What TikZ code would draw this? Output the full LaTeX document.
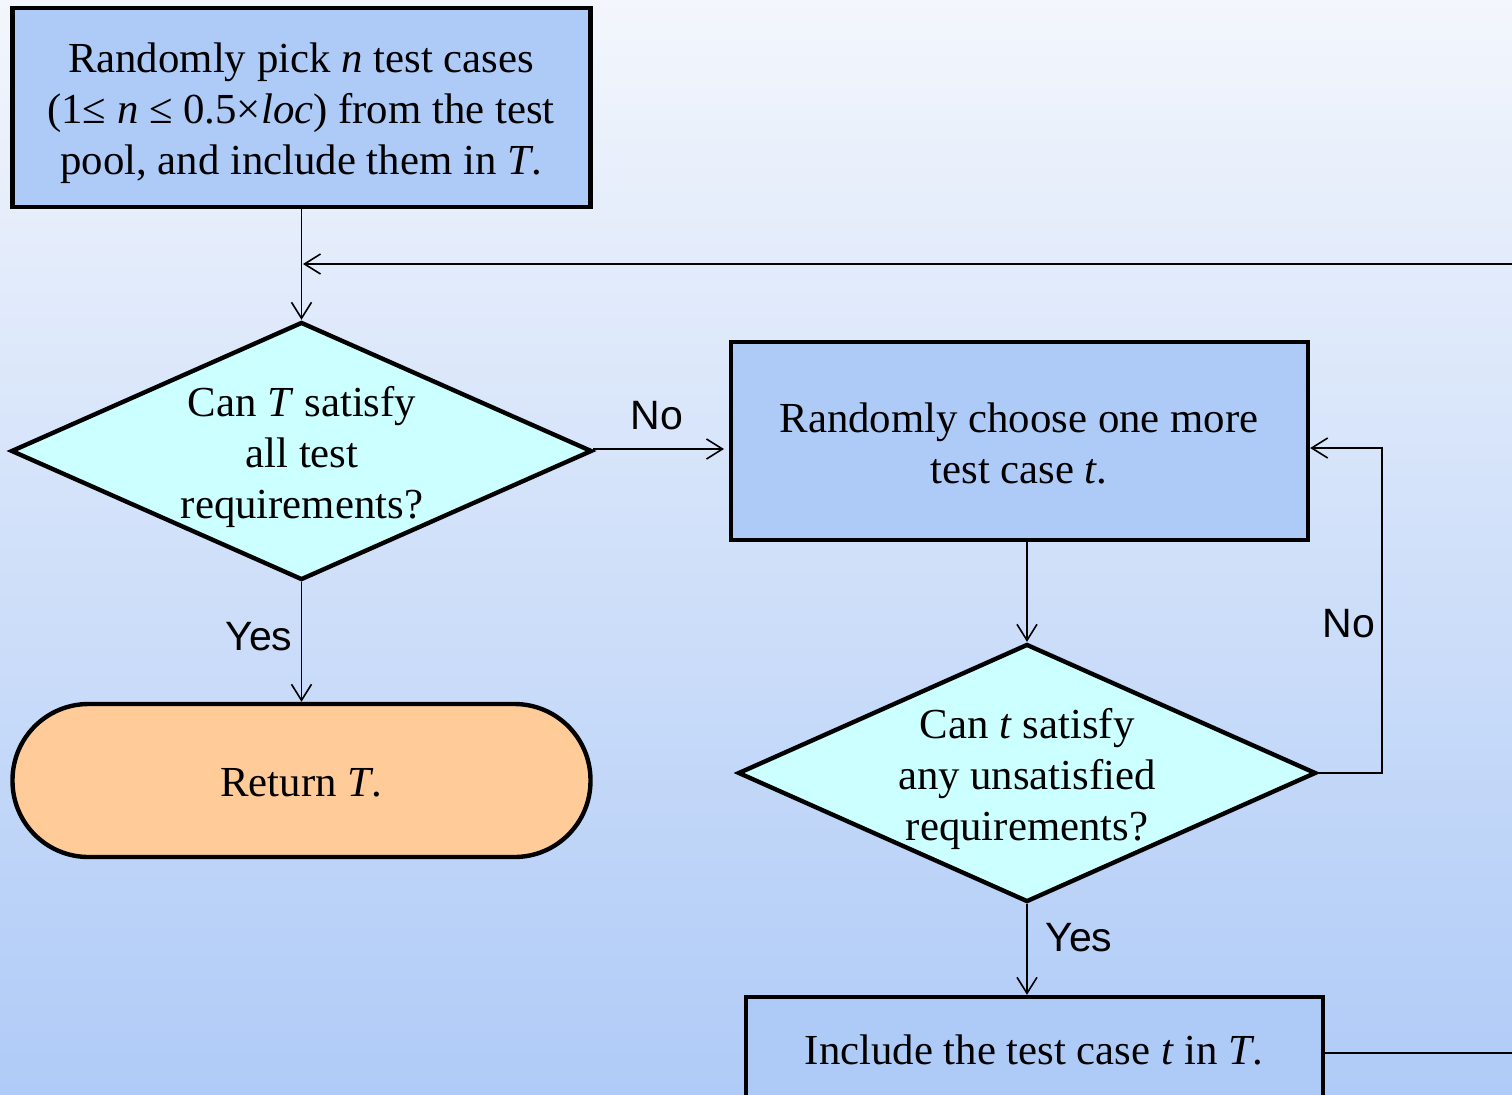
\documentclass[tikz,border=0pt]{standalone}
\usepackage{fontspec}
\setmainfont{Liberation Serif}
\newfontfamily\labfont{Liberation Sans}
\usetikzlibrary{shapes.geometric,arrows.meta}
\definecolor{bgtop}{HTML}{F3F6FC}
\definecolor{bgbot}{HTML}{AFCBF7}
\definecolor{boxblue}{HTML}{AECBF8}
\definecolor{diacyan}{HTML}{CCFFFF}
\definecolor{termorange}{HTML}{FFCC99}
\tikzset{
  procbox/.style={draw=black, line width=2.2pt, fill=boxblue, rectangle, inner sep=0pt},
  diabox/.style={draw=black, line width=2.2pt, fill=diacyan, diamond, inner sep=0pt},
  termbox/.style={draw=black, line width=2.2pt, fill=termorange, rectangle, rounded corners=38pt, inner sep=0pt},
  maintext/.style={font=\fontsize{21.4pt}{25.5pt}\selectfont, align=center, inner sep=0pt},
  lab/.style={font=\labfont\fontsize{20.5pt}{24pt}\selectfont, inner sep=0pt},
  arr/.style={line width=0.8pt, -{Straight Barb[length=8pt,width=10pt,line width=0.8pt]}},
  plain/.style={line width=0.8pt}
}
\begin{document}
\begin{tikzpicture}[x=0.5pt,y=-0.5pt]
\useasboundingbox (0,0) rectangle (1512,1094);
\clip (0,0) rectangle (1512,1094);
\shade[top color=bgtop, bottom color=bgbot] (0,0) rectangle (1512,1094);

% shapes
\node[procbox, minimum width=289pt, minimum height=99.5pt] (b1) at (301.5,107.5) {};
\node[diabox, minimum width=290.5pt, minimum height=129pt] (d1) at (301.5,451) {};
\node[termbox, minimum width=289pt, minimum height=76.5pt] (rt) at (301.5,780.5) {};
\node[procbox, minimum width=288.5pt, minimum height=99pt] (b2) at (1019.5,441) {};
\node[diabox, minimum width=289pt, minimum height=129pt] (d2) at (1027,773) {};
\node[procbox, minimum width=288.5pt, minimum height=56pt] (b3) at (1034.5,1053) {};

% texts
\node[maintext] (t1) at (301,113.5) {Randomly pick \textit{n} test cases\\(1≤ \textit{n} ≤ 0.5×\textit{loc}) from the test\\pool, and include them in \textit{T}.};
\node[maintext] (t2) at (302,457) {Can \textit{T} satisfy\\all test\\requirements?};
\node[maintext] (t3) at (301,782.5) {Return \textit{T}.};
\node[maintext] (t4) at (1019,443) {Randomly choose one more\\test case \textit{t}.};
\node[maintext] (t5) at (1027,778.5) {Can \textit{t} satisfy\\any unsatisfied\\requirements?};
\node[maintext] (t6) at (1034,1050) {Include the test case \textit{t} in \textit{T}.};

% coordinates
\coordinate (j) at (303,264);
\coordinate (r1) at (1580,1053);
\coordinate (r2) at (1580,264);
\coordinate (n1) at (1382,773);
\coordinate (n2) at (1382,448);
\coordinate (e1) at (593,449);
\coordinate (e2) at (724,449);

% connectors
\draw[arr] (b1.south) -- (d1.north);
\draw[arr] (r2) -- (j);
\draw[plain] (b3.east) -- (r1) -- (r2);
\draw[arr] (e1) -- (e2);
\draw[arr] (d1.south) -- (rt.north);
\draw[arr] (b2.south -| d2.north) -- (d2.north);
\draw[arr] (d2.east) -- (n1) -- (n2) -- (b2.east |- n2);
\draw[arr] (d2.south) -- (b3.north -| d2.south);

% labels
\node[lab] (l1) at (657,416) {No};
\node[lab] (l2) at (259,637) {Yes};
\node[lab] (l3) at (1349,624) {No};
\node[lab] (l4) at (1079,938) {Yes};
\end{tikzpicture}
\end{document}
